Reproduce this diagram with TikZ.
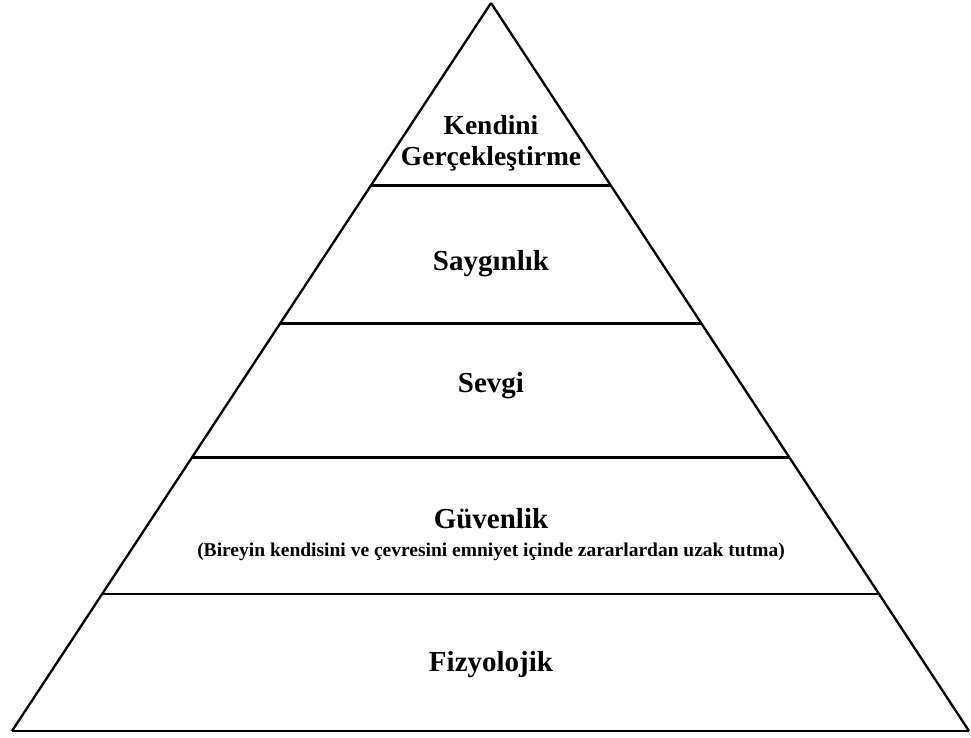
\documentclass[tikz,border=0pt]{standalone}
\usepackage{fontspec}
\setmainfont{Liberation Serif}
\usetikzlibrary{calc}
\begin{document}
\begin{tikzpicture}[x=1pt,y=-1pt,
   level/.style={font=\bfseries\fontsize{29}{34}\selectfont,align=center,inner sep=0pt},
   toplevel/.style={font=\bfseries\fontsize{27.5}{31}\selectfont,align=center,inner sep=0pt},
   note/.style={font=\bfseries\fontsize{19.5}{23}\selectfont,inner sep=0pt}]
   \useasboundingbox (0,0) rectangle (971,738);
   \coordinate (apex) at (491,3);
   \coordinate (bl) at (12,731);
   \coordinate (br) at (969,731);
   \draw[line width=2.3pt] (apex) -- (bl) (apex) -- (br);
   \draw[line width=2.8pt] (bl) -- (br);
   % dividing lines between the levels
   \foreach \t in {0.2503,0.4402,0.6245,0.8116}
   \draw[line width=2.6pt] ($(apex)!\t!(bl)$) -- ($(apex)!\t!(br)$);

   \node[toplevel] (self) at (491,143) {Kendini\\Gerçekleştirme};
   \node[level] (esteem) at (491,264) {Saygınlık};
   \node[level] (love) at (491,386) {Sevgi};
   \node[level] (safety) at (491,519) {Güvenlik};
   \node[note] (safetynote) at (491,552)
   {(Bireyin kendisini ve çevresini emniyet içinde zararlardan uzak tutma)};
   \node[level] (body) at (491,665) {Fizyolojik};
\end{tikzpicture}
\end{document}
